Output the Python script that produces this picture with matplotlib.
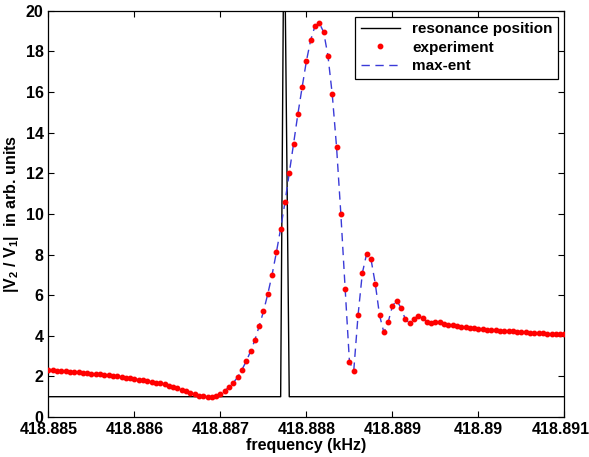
import numpy as np
import matplotlib
matplotlib.use("Agg")
import matplotlib.pyplot as plt
import matplotlib.transforms as mtransforms

plt.rcParams['font.family'] = ['Liberation Sans', 'DejaVu Sans']
plt.rcParams['font.weight'] = 'bold'
plt.rcParams['mathtext.fontset'] = 'custom'
plt.rcParams['mathtext.rm'] = 'Liberation Sans:bold'
plt.rcParams['mathtext.default'] = 'rm'

# frequency grid of the measurement (kHz), step 0.00005
f_start = 418.885
f_step = 0.00005

experiment = [
    2.30, 2.29, 2.28, 2.27, 2.25, 2.24, 2.22, 2.20, 2.18, 2.16,
    2.14, 2.12, 2.10, 2.07, 2.05, 2.02, 2.00, 1.97, 1.94, 1.91,
    1.87, 1.84, 1.80, 1.77, 1.73, 1.69, 1.65, 1.61, 1.55, 1.48,
    1.41, 1.34, 1.27, 1.20, 1.12, 1.05, 1.01, 0.98, 0.99, 1.04,
    1.14, 1.30, 1.47, 1.69, 1.96, 2.33, 2.75, 3.23, 3.79, 4.47,
    5.20, 6.05, 7.00, 8.10, 9.28, 10.57, 12.01, 13.45, 14.91, 16.24,
    17.54, 18.57, 19.26, 19.39, 18.95, 17.78, 15.88, 13.29, 9.99, 6.31,
    2.72, 2.28, 5.01, 7.09, 8.04, 7.78, 6.57, 5.01, 4.17, 4.67,
    5.47, 5.73, 5.37, 4.81, 4.63, 4.84, 4.98, 4.88, 4.68, 4.62,
    4.67, 4.67, 4.57, 4.52, 4.52, 4.50, 4.45, 4.42, 4.40, 4.36,
    4.33, 4.31, 4.30, 4.28, 4.27, 4.25, 4.24, 4.22, 4.21, 4.20,
    4.19, 4.17, 4.16, 4.15, 4.14, 4.12, 4.11, 4.10, 4.09, 4.08,
    4.07,
]
freq = f_start + f_step * np.arange(len(experiment))

# max-ent reconstruction follows the measurement
maxent = experiment

# resonance position marker
res_freq = [418.885, 418.8877, 418.88774, 418.8878, 418.891]
res_val = [1, 1, 26, 1, 1]

xticks = [418.885, 418.886, 418.887, 418.888, 418.889, 418.89, 418.891]
xticklabels = ['418.885', '418.886', '418.887', '418.888', '418.889', '418.89', '418.891']
yticks = [0, 2, 4, 6, 8, 10, 12, 14, 16, 18, 20]


fig = plt.figure(figsize=(5.89, 4.57), dpi=100)
ax = fig.add_axes([0.0823, 0.0875, 0.876, 0.889])

ax.plot(res_freq, res_val, color='black', lw=1.0, label='resonance position')
ax.plot(freq, experiment, ls='none', marker='o', ms=3.2, color='red',
        mec='red', label='experiment', zorder=3)
ax.plot(freq, maxent, color='#3a3ad8', lw=1.0, dashes=(6, 4), label='max-ent', zorder=2)

ax.set_xlim(418.885, 418.891)
ax.set_ylim(0, 20)
ax.set_xticks(xticks)
ax.set_xticklabels(xticklabels)
ax.set_yticks(yticks)
ax.tick_params(direction='in', top=True, right=True, labelsize=11.5, length=4, width=0.8)
for s in ax.spines.values():
    s.set_linewidth(0.9)

# keep the last tick label inside the figure
last = ax.get_xticklabels()[-1]
last.set_transform(last.get_transform() + mtransforms.ScaledTranslation(-4 / 100, 0, fig.dpi_scale_trans))

ax.set_xlabel('frequency (kHz)', fontsize=11.5, fontweight='bold', labelpad=1)
ax.set_ylabel(r'|V$_2$ / V$_1$|  in arb. units', fontsize=11.5, fontweight='bold', labelpad=3)

leg = ax.legend(loc='upper right', fontsize=11, fancybox=False, framealpha=1,
                edgecolor='black', borderaxespad=0.4, handlelength=2.6,
                labelspacing=0.3, borderpad=0.35)
leg.get_frame().set_linewidth(0.9)

fig.savefig('out.png', dpi=100)
